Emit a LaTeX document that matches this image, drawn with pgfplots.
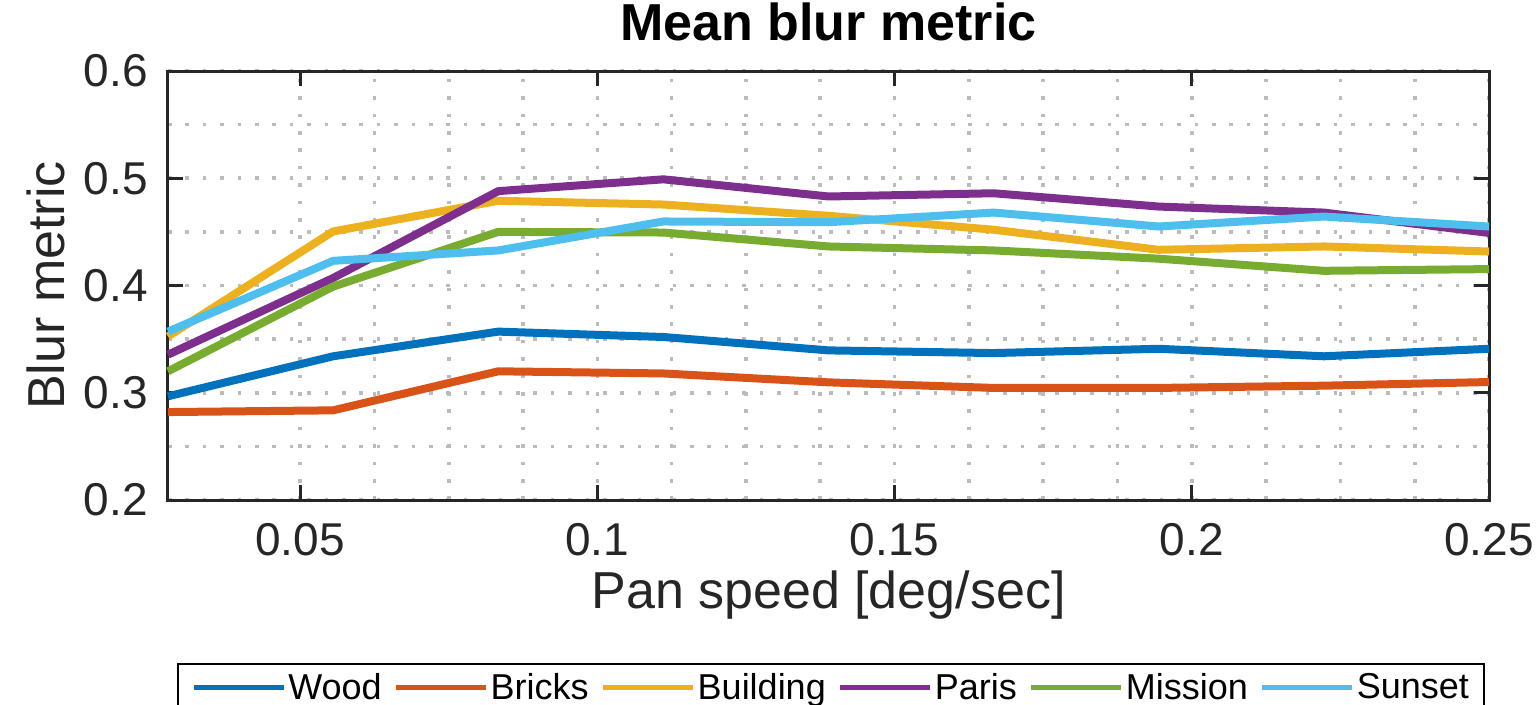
\documentclass[border=0pt]{standalone}
\usepackage{pgfplots}
\pgfplotsset{compat=1.18}
\usepackage{fontspec}
\setmainfont{Liberation Sans}
\definecolor{axc}{rgb}{0.15,0.15,0.15}
\definecolor{gridc}{RGB}{188,188,188}
\definecolor{cWood}{rgb}{0,0.447,0.741}
\definecolor{cBricks}{rgb}{0.85,0.325,0.098}
\definecolor{cBuilding}{rgb}{0.929,0.694,0.125}
\definecolor{cParis}{rgb}{0.494,0.184,0.556}
\definecolor{cMission}{rgb}{0.466,0.674,0.188}
\definecolor{cSunset}{rgb}{0.301,0.745,0.933}
\begin{document}
\begin{tikzpicture}
\begin{axis}[
  name=ax,
  scale only axis,
  width=660.5bp, height=214.5bp,
  xmin=0.0277778, xmax=0.25, ymin=0.2, ymax=0.6,
  xtick={0.05,0.1,0.15,0.2,0.25},
  xticklabels={0.05,0.1,0.15,0.2,0.25},
  ytick={0.2,0.3,0.4,0.5,0.6},
  yticklabels={0.2,0.3,0.4,0.5,0.6},
  minor x tick num=3,
  minor y tick num=1,
  grid=both,
  major grid style={color=gridc, line width=1.8bp, dash pattern=on 1.8bp off 6.9bp},
  minor grid style={color=gridc, line width=1.8bp, dash pattern=on 1.8bp off 6.9bp},
  tick align=inside,
  major tick length=7.5bp,
  minor tick length=0pt,
  every tick/.style={color=axc, line width=1.5bp},
  axis line style={color=axc, line width=1.5bp},
  tick label style={font=\fontsize{23bp}{27bp}\selectfont, color=axc},
  yticklabel style={anchor=east, inner sep=0pt, xshift=-10bp},
  xticklabel style={anchor=north, inner sep=0pt, yshift=-11.5bp},
  title={Mean blur metric},
  title style={font=\fontsize{26bp}{30bp}\selectfont\bfseries, at={(axis description cs:0.5,1)}, anchor=base, yshift=9.5bp, inner sep=0pt},
  xlabel={Pan speed [deg/sec]},
  xlabel style={font=\fontsize{26bp}{30bp}\selectfont, color=axc, at={(axis description cs:0.5,0)}, anchor=base, yshift=-54bp, inner sep=0pt},
  ylabel={Blur metric},
  ylabel style={font=\fontsize{26bp}{30bp}\selectfont, color=axc, at={(axis description cs:-0.078,0.5)}, anchor=base, rotate=0, inner sep=0pt},
  clip=false,
  legend columns=6,
  legend image code/.code={\draw[#1, line width=2.5bp] (0bp,0bp) -- (45bp,0bp);},
  legend style={at={(axis description cs:0.502,-0.38)}, anchor=north, draw=black, line width=1bp,
    inner xsep=6.5bp, inner ysep=3.5bp,
    font=\fontsize{18bp}{21bp}\selectfont,
    nodes={inner sep=1bp},
    /tikz/every even column/.append style={column sep=5bp}},
  legend cell align=left,
  every axis plot/.append style={line width=4bp, line join=round},
]
\addplot[cWood] coordinates {(0.027778,0.2967)(0.055556,0.334)(0.083333,0.357)(0.111111,0.352)(0.138889,0.3395)(0.166667,0.337)(0.194444,0.341)(0.222222,0.334)(0.25,0.341)};
\addlegendentry{Wood}
\addplot[cBricks] coordinates {(0.027778,0.282)(0.055556,0.2836)(0.083333,0.320)(0.111111,0.318)(0.138889,0.3097)(0.166667,0.3045)(0.194444,0.3045)(0.222222,0.3066)(0.25,0.310)};
\addlegendentry{Bricks}
\addplot[cBuilding] coordinates {(0.027778,0.3525)(0.055556,0.4504)(0.083333,0.479)(0.111111,0.4755)(0.138889,0.465)(0.166667,0.452)(0.194444,0.4333)(0.222222,0.4364)(0.25,0.4317)};
\addlegendentry{Building}
\addplot[cParis] coordinates {(0.027778,0.3355)(0.055556,0.407)(0.083333,0.488)(0.111111,0.499)(0.138889,0.483)(0.166667,0.486)(0.194444,0.4736)(0.222222,0.468)(0.25,0.449)};
\addlegendentry{Paris}
\addplot[cMission] coordinates {(0.027778,0.320)(0.055556,0.399)(0.083333,0.450)(0.111111,0.4494)(0.138889,0.4364)(0.166667,0.4327)(0.194444,0.425)(0.222222,0.4137)(0.25,0.4153)};
\addlegendentry{Mission}
\addplot[cSunset] coordinates {(0.027778,0.357)(0.055556,0.423)(0.083333,0.4327)(0.111111,0.4597)(0.138889,0.459)(0.166667,0.468)(0.194444,0.455)(0.222222,0.4643)(0.25,0.455)};
\addlegendentry{Sunset}
\end{axis}
\pgfresetboundingbox
\path[use as bounding box] (ax.south west) ++(-84bp,-102.5bp) rectangle ++(769.5bp,352.5bp);
\end{tikzpicture}
\end{document}
